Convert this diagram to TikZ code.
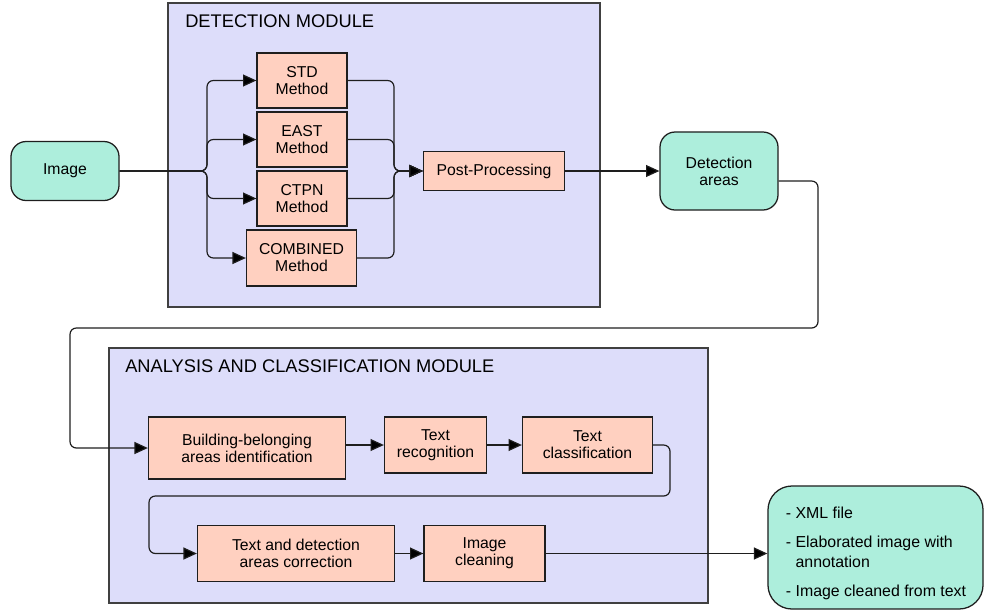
\documentclass[tikz,border=0pt]{standalone}
\usepackage{fontspec}
\setmainfont{Liberation Sans}
\usetikzlibrary{arrows.meta,positioning}

\definecolor{modfill}{RGB}{221,221,250}
\definecolor{stepfill}{RGB}{255,208,192}
\definecolor{iofill}{RGB}{173,238,220}
\definecolor{linegray}{RGB}{30,30,30}

\tikzset{
    module/.style={draw=linegray!85, fill=modfill, line width=1pt},
    modtitle/.style={anchor=west, inner sep=0pt, font=\fontsize{13}{15}\selectfont},
    stepbox/.style={draw=linegray, fill=stepfill, line width=0.9pt, align=center, inner sep=0pt,
        font=\fontsize{11.2}{12}\selectfont},
    iobox/.style={draw=linegray, fill=iofill, line width=0.9pt, align=center, inner sep=0pt,
        rounded corners=0.38cm, font=\fontsize{11.2}{12}\selectfont},
    conn/.style={draw=linegray, line width=0.85pt, rounded corners=4.5pt},
    arr/.style={conn, -{Triangle[length=9.5pt,width=8.5pt,fill=black]}},
}

\begin{document}
\begin{tikzpicture}[x=0.025cm, y=-0.025cm]
                \useasboundingbox (0,0) rectangle (984,613);
                % modules
                \draw[module] (168,3) rectangle (600,307);
                \node[modtitle] (dettitle) at (185,21) {DETECTION MODULE};
                \draw[module] (109,348) rectangle (708,603);
                \node[modtitle] (anatitle) at (125,366) {ANALYSIS AND CLASSIFICATION MODULE};
                % detection
                \node[iobox, minimum width=2.7cm, minimum height=1.475cm] (img) at (65,171) {Image};
                \node[stepbox, minimum width=2.25cm, minimum height=1.375cm] (std) at (302,80.5) {STD\\Method};
                \node[stepbox, minimum width=2.25cm, minimum height=1.375cm] (east) at (302,139.5) {EAST\\Method};
                \node[stepbox, minimum width=2.25cm, minimum height=1.375cm] (ctpn) at (302,198.5) {CTPN\\Method};
                \node[stepbox, minimum width=2.75cm, minimum height=1.4cm] (comb) at (301.5,258) {COMBINED\\Method};
                \node[stepbox, minimum width=3.525cm, minimum height=0.975cm] (post) at (494,171) {Post-Processing};
                \node[iobox, minimum width=2.95cm, minimum height=1.95cm] (det) at (719,171) {Detection\\areas};
                \coordinate (fork) at (207,171);
                \coordinate (merge) at (394,171);
                \foreach \m in {std,east,ctpn,comb} {
                    \draw[arr] (img.east) -- (fork) |- (\m.west);
                    \draw[arr] (\m.east) -| (merge) -- (post.west);
                }
                \draw[arr] (post.east) -- (det.west);
                % analysis
                \node[stepbox, minimum width=4.925cm, minimum height=1.55cm] (build) at (247,448) {Building-belonging\\areas identification};
                \node[stepbox, minimum width=2.55cm, minimum height=1.4cm] (rec) at (435.5,445) {Text\\recognition};
                \node[stepbox, minimum width=3.25cm, minimum height=1.4cm] (cls) at (587.5,445) {Text\\classification};
                \node[stepbox, minimum width=4.925cm, minimum height=1.4cm] (corr) at (296,553.5) {Text and detection\\areas correction};
                \node[stepbox, minimum width=3.025cm, minimum height=1.4cm] (clean) at (484.5,553.5) {Image\\cleaning};
                \node[iobox, rounded corners=0.6cm, minimum width=5.375cm, minimum height=3.075cm] (out) at (875.5,547.5) {};
                \node[align=left, inner sep=0pt, font=\fontsize{11.3}{14.2}\selectfont] (outtext) at (876,553)
                    {- XML file\\[6.5pt]- Elaborated image with\\\hphantom{-}\ annotation\\[6.5pt]- Image cleaned from text};
                \coordinate (detout) at ([yshift=-0.25cm]det.east);
                \draw[arr] (detout) -| (818,328) -| (70,448) -- (build.west);
                \draw[arr] (build.east |- rec.west) -- (rec.west);
                \draw[arr] (rec.east) -- (cls.west);
                \draw[arr] (cls.east) -| (670,496) -| (149,553.5) -- (corr.west);
                \draw[arr] (corr.east) -- (clean.west);
                \draw[arr] (clean.east) -- (clean.east -| out.west);
\end{tikzpicture}
\end{document}
